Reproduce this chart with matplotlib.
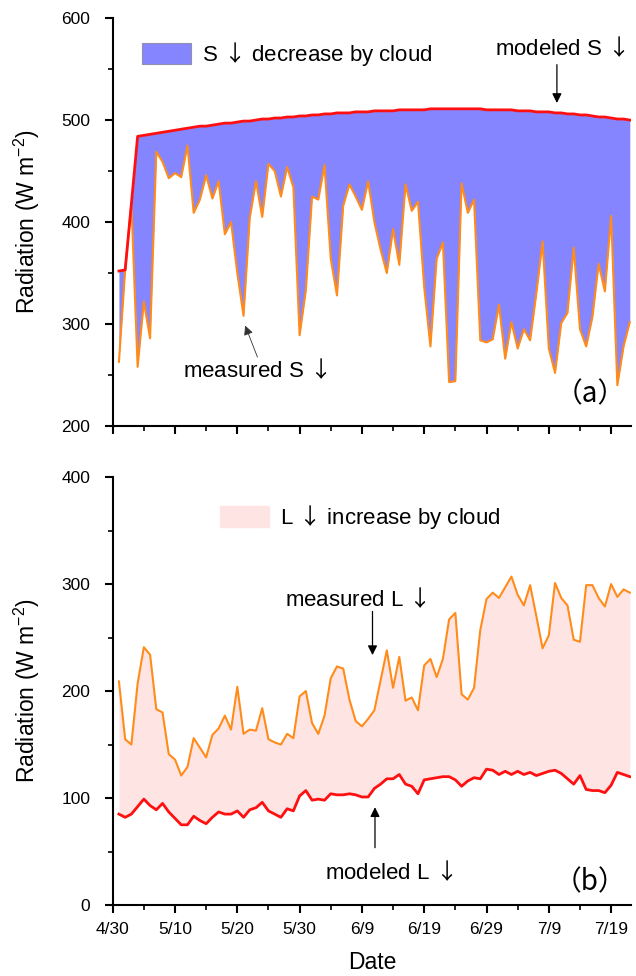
import numpy as np
import pandas as pd
import matplotlib
matplotlib.use("Agg")
from matplotlib import pyplot as plt
import matplotlib.dates as mdates
from matplotlib.patches import Patch

plt.rcParams['font.family'] = ['Liberation Sans', 'DejaVu Sans', 'Noto Sans CJK SC']
plt.rcParams['mathtext.fontset'] = 'custom'
plt.rcParams['mathtext.rm'] = 'Liberation Sans'
plt.rcParams['mathtext.it'] = 'Liberation Sans:italic'
plt.rcParams['mathtext.sf'] = 'Noto Sans CJK SC'

# daily values, 5/1 .. 7/22
dates = pd.date_range('2014-05-01', '2014-07-22')

s_measured = [263, 353, 418, 258, 322, 286, 469, 459, 443, 448,
              444, 475, 409, 422, 446, 423, 440, 388, 400, 350,
              308, 404, 440, 405, 457, 450, 425, 454, 434, 289,
              333, 425, 422, 456, 364, 328, 416, 437, 425, 412,
              440, 400, 373, 350, 393, 358, 437, 411, 420, 336,
              278, 364, 380, 243, 244, 438, 409, 422, 284, 282,
              285, 319, 266, 302, 276, 295, 284, 330, 381, 276,
              252, 301, 311, 375, 295, 278, 307, 359, 332, 406,
              240, 278, 302]

s_modeled = [352, 353, 418, 484, 485, 486, 487, 488, 489, 490,
             491, 492, 493, 494, 494, 495, 496, 497, 497, 498,
             499, 499, 500, 501, 501, 502, 502, 503, 503, 504,
             504, 505, 505, 506, 506, 507, 507, 507, 508, 508,
             508, 509, 509, 509, 509, 510, 510, 510, 510, 510,
             511, 511, 511, 511, 511, 511, 511, 511, 511, 510,
             510, 510, 510, 510, 509, 509, 509, 508, 508, 508,
             507, 507, 506, 506, 505, 505, 504, 503, 503, 502,
             501, 501, 500]

l_measured = [209, 155, 150, 207, 241, 234, 183, 180, 141, 136,
              121, 129, 156, 147, 138, 159, 165, 177, 164, 204,
              160, 164, 163, 184, 155, 152, 150, 160, 156, 195,
              200, 170, 160, 177, 212, 223, 221, 192, 172, 167,
              174, 182, 210, 238, 203, 232, 191, 194, 182, 224,
              230, 213, 230, 267, 273, 197, 192, 203, 257, 286,
              292, 287, 297, 307, 290, 280, 299, 270, 240, 252,
              301, 287, 280, 248, 246, 299, 299, 287, 279, 300,
              288, 295, 292]

l_modeled = [85, 82, 85, 92, 99, 93, 89, 95, 87, 81,
             75, 75, 83, 79, 76, 82, 87, 85, 85, 88,
             82, 89, 91, 96, 88, 85, 82, 90, 88, 102,
             107, 98, 99, 98, 104, 103, 103, 104, 103, 101,
             101, 109, 113, 118, 118, 122, 113, 111, 104, 117,
             118, 119, 120, 120, 117, 111, 116, 119, 118, 127,
             126, 122, 125, 122, 125, 122, 124, 121, 123, 125,
             126, 123, 118, 113, 121, 108, 107, 107, 105, 112,
             124, 122, 120]

tick_dates = pd.date_range('2014-04-30', periods=9, freq='10D')
tick_labels = [f"{d.month}/{d.day}" for d in tick_dates]
minor_dates = pd.date_range('2014-04-30', periods=17, freq='5D')

blue = '#8585FF'
pink = '#FFE4E4'
red = '#FF1010'
orange = '#FF8C1A'
DN = r'$\mathsf{↓}$'

x = mdates.date2num(dates)
x0 = mdates.date2num(pd.Timestamp('2014-04-30'))
x1 = mdates.date2num(pd.Timestamp('2014-07-22')) + 0.27

fig = plt.figure(figsize=(6.36, 9.76), dpi=100)
ax1 = fig.add_axes([0.1772, 0.5635, 0.8157, 0.418])
ax2 = fig.add_axes([0.1772, 0.0727, 0.8157, 0.4385])


def style(ax):
    for s in ['top', 'right']:
        ax.spines[s].set_visible(False)
    for s in ['left', 'bottom']:
        ax.spines[s].set_linewidth(1.5)
    ax.set_xlim(x0, x1)
    ax.set_xticks(mdates.date2num(tick_dates))
    ax.set_xticks(mdates.date2num(minor_dates), minor=True)
    ax.tick_params(which='major', direction='out', length=6, width=1.5, labelsize=12.5, pad=6)
    ax.tick_params(axis='y', which='major', pad=10)
    ax.tick_params(which='minor', direction='out', length=3.5, width=1.2)


# (a) shortwave
ax1.fill_between(x, s_measured, s_modeled, color=blue, linewidth=0)
ax1.plot(x, s_measured, color=orange, lw=1.5)
ax1.plot(x, s_modeled, color=red, lw=2)
style(ax1)
ax1.set_ylim(200, 600)
ax1.set_yticks([200, 300, 400, 500, 600])
ax1.set_yticks([250, 350, 450, 550], minor=True)
ax1.set_xticklabels([])
ax1.set_ylabel('Radiation (W m$^{-2}$)', fontsize=16.5, labelpad=14)

ax1.legend(handles=[Patch(facecolor=blue, edgecolor='#9090B0', lw=0.8)],
           labels=['S ' + DN + ' decrease by cloud'], loc='upper left',
           bbox_to_anchor=(0.0565, 0.946), frameon=False, fontsize=16,
           handlelength=2.2, handleheight=1.05, handletextpad=0.5,
           borderpad=0, borderaxespad=0)

ax1.annotate('', xy=(x0 + 71.3, 514), xytext=(x0 + 71.3, 557),
             arrowprops=dict(arrowstyle='-|>', color='black', lw=0.9, mutation_scale=14))
ax1.text(x0 + 71.9, 571, 'modeled S ' + DN, fontsize=16, ha='center', va='center')
ax1.annotate('', xy=(x0 + 21.1, 301), xytext=(x0 + 23.4, 265),
             arrowprops=dict(arrowstyle='-|>', color='#333333', lw=0.6, mutation_scale=14))
ax1.text(x0 + 22.8, 255, 'measured S ' + DN, fontsize=16, ha='center', va='center')
ax1.text(x0 + 76.6, 231, '（a）', fontsize=20, ha='center', va='center',
         family=['Noto Sans CJK SC'])

# (b) longwave
ax2.fill_between(x, l_modeled, l_measured, color=pink, linewidth=0)
ax2.plot(x, l_measured, color=orange, lw=1.5)
ax2.plot(x, l_modeled, color=red, lw=2)
style(ax2)
ax2.set_ylim(0, 400)
ax2.set_yticks([0, 100, 200, 300, 400])
ax2.set_yticks([50, 150, 250, 350], minor=True)
ax2.set_xticklabels(tick_labels)
ax2.set_xlabel('Date', fontsize=16.5, labelpad=10)
ax2.set_ylabel('Radiation (W m$^{-2}$)', fontsize=16.5, labelpad=14)

ax2.legend(handles=[Patch(facecolor=pink, edgecolor=pink)],
           labels=['L ' + DN + ' increase by cloud'], loc='upper left',
           bbox_to_anchor=(0.207, 0.939), frameon=False, fontsize=16,
           handlelength=2.2, handleheight=1.05, handletextpad=0.5,
           borderpad=0, borderaxespad=0)

ax2.annotate('', xy=(x0 + 41.7, 231), xytext=(x0 + 41.7, 277),
             arrowprops=dict(arrowstyle='-|>', color='black', lw=0.9, mutation_scale=14))
ax2.text(x0 + 39.0, 286, 'measured L ' + DN, fontsize=16, ha='center', va='center')
ax2.annotate('', xy=(x0 + 42.1, 94), xytext=(x0 + 42.1, 51),
             arrowprops=dict(arrowstyle='-|>', color='black', lw=0.9, mutation_scale=14))
ax2.text(x0 + 44.3, 31, 'modeled L ' + DN, fontsize=16, ha='center', va='center')
ax2.text(x0 + 76.6, 21.5, '（b）', fontsize=20, ha='center', va='center',
         family=['Noto Sans CJK SC'])

fig.savefig('out.png', dpi=100)
